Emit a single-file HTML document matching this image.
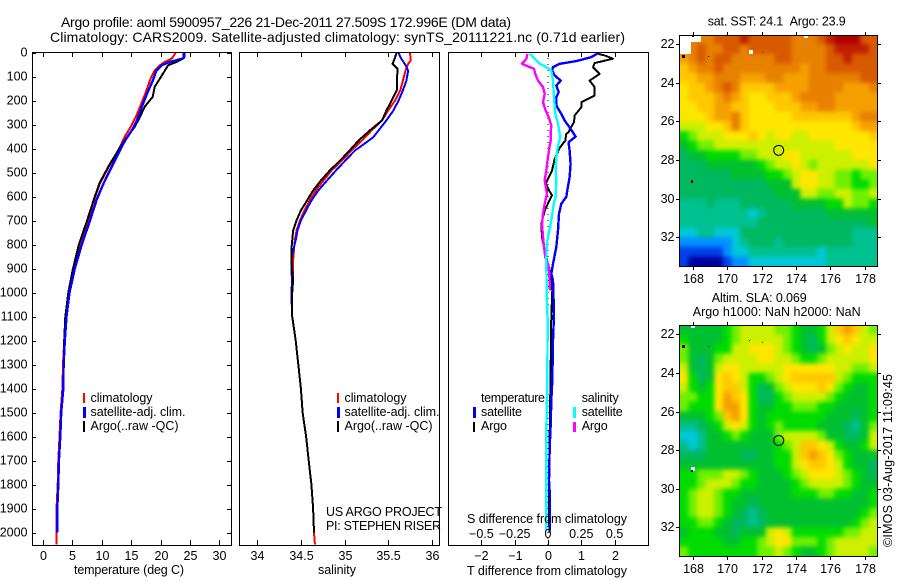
<!DOCTYPE html>
<html>
<head>
<meta charset="utf-8">
<title>Argo profile 5900957_226</title>
<style>
html,body{margin:0;padding:0;background:#fff;}
svg{display:block;}
text{font-family:"Liberation Sans",sans-serif;font-size:12.5px;fill:#000;}
.title{font-size:14px;}
.mid{text-anchor:middle;}
.end{text-anchor:end;}
</style>
</head>
<body>
<svg id="figure" width="900" height="580" viewBox="0 0 900 580" xmlns="http://www.w3.org/2000/svg">
<rect x="0" y="0" width="900" height="580" fill="#fff"/>
<text class="title" x="61" y="27" textLength="450" lengthAdjust="spacing">Argo profile: aoml 5900957_226 21-Dec-2011 27.509S 172.996E (DM data)</text>
<text class="title" x="50" y="42" textLength="575" lengthAdjust="spacing">Climatology: CARS2009. Satellite-adjusted climatology: synTS_20111221.nc (0.71d earlier)</text>
<defs>
<clipPath id="clipMap1"><rect x="679" y="35" width="198" height="231"/></clipPath>
<clipPath id="clipMap2"><rect x="679" y="325" width="198" height="231"/></clipPath>
<filter id="smoothSst" x="-10%" y="-10%" width="120%" height="120%" color-interpolation-filters="sRGB"><feGaussianBlur stdDeviation="2"/></filter>
<filter id="smoothSla" x="-10%" y="-10%" width="120%" height="120%" color-interpolation-filters="sRGB"><feGaussianBlur stdDeviation="2.3"/></filter>
</defs>
<g id="layerMarks"></g>
<g id="layerAxes"></g>

<g>
<rect x="83" y="393" width="2" height="10" fill="#f00"/>
<rect x="83" y="407" width="3" height="11" fill="#00f"/>
<rect x="83" y="421" width="2" height="11" fill="#000"/>
<text x="90.5" y="402" textLength="62" lengthAdjust="spacing">climatology</text>
<text x="90.5" y="416" textLength="95" lengthAdjust="spacing">satellite-adj. clim.</text>
<text x="90.5" y="430" textLength="88" lengthAdjust="spacing">Argo(..raw -QC)</text>
</g>
<g>
<rect x="337" y="393" width="2" height="10" fill="#f00"/>
<rect x="337" y="407" width="3" height="11" fill="#00f"/>
<rect x="337" y="421" width="2" height="11" fill="#000"/>
<text x="344.5" y="402" textLength="62" lengthAdjust="spacing">climatology</text>
<text x="344.5" y="416" textLength="95" lengthAdjust="spacing">satellite-adj. clim.</text>
<text x="344.5" y="430" textLength="88" lengthAdjust="spacing">Argo(..raw -QC)</text>
</g>
<text x="326" y="516" textLength="116" lengthAdjust="spacing">US ARGO PROJECT</text>
<text x="326" y="530" textLength="115" lengthAdjust="spacing">PI: STEPHEN RISER</text>
<g>
<text x="481" y="402" textLength="64" lengthAdjust="spacing">temperature</text>
<text x="481" y="416" textLength="41" lengthAdjust="spacing">satellite</text>
<text x="481" y="430" textLength="26" lengthAdjust="spacing">Argo</text>
<rect x="473" y="407" width="3" height="11" fill="#00f"/>
<rect x="473" y="422" width="2" height="10" fill="#000"/>
<text x="581.7" y="402" textLength="37" lengthAdjust="spacing">salinity</text>
<text x="581.7" y="416" textLength="41" lengthAdjust="spacing">satellite</text>
<text x="581.7" y="430" textLength="26" lengthAdjust="spacing">Argo</text>
<rect x="573" y="407" width="3" height="11" fill="#0ff"/>
<rect x="573" y="422" width="3" height="10" fill="#f0f"/>
</g>
<text x="74" y="574" textLength="110" lengthAdjust="spacing">temperature (deg C)</text>
<text x="318" y="574" textLength="38" lengthAdjust="spacing">salinity</text>
<text x="467" y="575" textLength="160" lengthAdjust="spacing">T difference from climatology</text>
<text x="467" y="523" textLength="160" lengthAdjust="spacing">S difference from climatology</text>
<text x="707.7" y="25.5" textLength="138" lengthAdjust="spacing">sat. SST: 24.1&#160;&#160;Argo: 23.9</text>
<text x="711.7" y="302" textLength="95" lengthAdjust="spacing">Altim. SLA: 0.069</text>
<text x="692.7" y="316" textLength="168" lengthAdjust="spacing">Argo h1000: NaN h2000: NaN</text>
<text transform="translate(892 547) rotate(-90)" x="0" y="0" textLength="173" lengthAdjust="spacing">©IMOS 03-Aug-2017 11:09:45</text>
</svg>
<script>
// ---------- profile data ----------
const depthTicks = [0,100,200,300,400,500,600,700,800,900,1000,1100,1200,1300,1400,1500,1600,1700,1800,1900,2000];
const tempTicks = [0,5,10,15,20,25,30];
const salTicks = [34,34.5,35,35.5,36];
const diffTTicks = [-2,-1,0,1,2];
const diffSTicks = [-0.5,-0.25,0,0.25,0.5];
const diffSLabels = ['\u22120.5','\u22120.25','0','0.25','0.5'];
const diffTLabels = ['\u22122','\u22121','0','1','2'];

const tempClimDepth = [0,25,39,53,74,115,171,226,268,310,351,393,435,476,545,608,700,800,900,1000,1100,1200,1300,1400,1500,1600,1700,1800,1900,2000,2050];
const tempClim = [22.6,21.9,20.7,19.9,19,18.2,17.4,16.5,15.8,14.9,13.9,13.1,12.2,11.2,9.7,8.8,7.6,6.2,5.1,4.3,3.8,3.6,3.4,3.3,3,2.8,2.6,2.5,2.3,2.3,2.3];
const tempSatDepth = [0,20,25,39,53,74,115,171,226,282,324,365,407,476,545,615,700,800,900,1000,1100,1200,1300,1400,1500,1600,1700,1800,1900,2000];
const tempSat = [24,24,23.8,21.6,20.2,19.3,18.7,17.7,16.8,16,15.1,14,13.1,11.7,10.3,9.1,8,6.6,5.4,4.5,4,3.7,3.5,3.45,3.1,2.95,2.7,2.6,2.43,2.43];
const tempArgoDepth = [0,25,39,53,100,143,185,226,268,310,358,407,476,545,608,700,800,900,1000,1100,1200,1300,1400,1500,1600,1700,1800,1900,2000];
const tempArgo = [23.9,23.9,22.7,21.3,20.1,19,18.65,17.3,16.5,15.6,14.1,12.8,11.1,9.6,8.7,7.5,6.1,5.1,4.3,3.8,3.6,3.5,3.4,3.1,2.95,2.7,2.6,2.43,2.43];

const salClimDepth = [0,33,47,75,117,158,200,242,283,325,367,408,450,492,533,575,617,658,700,742,783,825,867,950,1000,1100,1200,1300,1400,1500,1600,1700,1800,1900,2000,2050];
const salClim = [35.75,35.76,35.73,35.7,35.67,35.64,35.58,35.5,35.43,35.31,35.2,35.08,34.97,34.85,34.76,34.67,34.6,34.54,34.49,34.45,34.43,34.42,34.41,34.41,34.4,34.4,34.44,34.47,34.5,34.52,34.56,34.59,34.62,34.64,34.65,34.66];
const salSatDepth = [0,19,47,75,117,158,200,242,283,325,353,388,408,450,492,533,575,617,658,700,742,783,825,867,908,950,1000,1100,1200,1300,1400,1500,1600,1700,1800,1900,2000];
const salSat = [35.62,35.64,35.69,35.73,35.71,35.67,35.62,35.56,35.48,35.39,35.33,35.2,35.12,35.01,34.9,34.8,34.7,34.62,34.56,34.5,34.46,34.44,34.41,34.39,34.39,34.4,34.39,34.4,34.44,34.47,34.5,34.52,34.56,34.59,34.62,34.64,34.65];
const salArgoDepth = [0,40,47,68,117,158,200,242,283,325,367,408,450,492,533,575,617,658,700,742,783,825,867,908,950,1000,1100,1200,1300,1400,1500,1600,1700,1800,1900,2000];
const salArgo = [35.6,35.56,35.55,35.61,35.6,35.6,35.54,35.48,35.43,35.29,35.16,35.06,34.95,34.83,34.73,34.64,34.57,34.5,34.45,34.41,34.4,34.39,34.39,34.4,34.41,34.4,34.4,34.44,34.47,34.5,34.52,34.56,34.59,34.62,34.64,34.65];

const dTSatDepth = [3,19,36,47,61,75,96,117,138,165,186,221,256,283,318,350,374,408,464,519,575,602,630,672,741,811,880,922,950,1089,1200,1367,1450,1548,1645,1783,1853,1992];
const dTSat = [1.5,1.3,0.85,0.35,0.15,0.12,0.2,0.38,0.25,0.32,0.25,0.25,0.4,0.5,0.68,0.83,0.62,0.65,0.68,0.65,0.58,0.55,0.4,0.33,0.3,0.25,0.15,0.1,0.15,0.18,0.15,0.13,0.1,0.08,0.05,0.03,0.06,0.06];
const dTArgoDepth = [6,12,26,44,61,89,117,144,179,207,228,263,290,315,332,339,367,397,443,492,526,547,572,595,623,658,714,769,825,880,922,991,1100,1300,1500,1800,2000];
const dTArgo = [1.5,1.7,1.95,1.4,1.35,1.55,1.25,1.4,1.4,1,1,0.8,0.78,0.68,0.62,0.55,0.52,0.35,0.2,0.12,0,-0.07,0.02,0.12,0.02,-0.1,-0.2,-0.18,-0.1,0,0.08,0.13,0.1,0.08,0.06,0.03,0.04];
const dSSatDepth = [6,26,47,61,75,117,186,256,297,353,388,436,492,533,602,630,700,769,797,880,1047,1116,1367,1575,1992];
const dSSat = [-0.1375,-0.1,-0.0625,-0.0125,0.025,0.0375,0.045,0.055,0.075,0.0925,0.075,0.0625,0.0575,0.0625,0.0575,0.0425,0.025,0,-0.01,-0.0125,-0.0075,-0.0025,-0.005,-0.0125,-0.0125];
const dSArgoDepth = [6,26,47,58,68,89,117,144,172,207,242,269,304,332,367,388,436,492,533,589,630,672,714,769,811,853,880,922,991];
const dSArgo = [-0.155,-0.1625,-0.195,-0.15,-0.105,-0.095,-0.075,-0.0375,-0.025,-0.0375,-0.0175,0.005,0.025,0.02,0.02,0.0125,0,-0.0125,-0.025,-0.0075,-0.025,-0.0375,-0.045,-0.0375,-0.03,-0.02,0,0.01,0.015];

// ---------- map data ----------
const mapLonTicks = [168,170,172,174,176,178];
const mapLatTicks = [22,24,26,28,30,32];
const mapLons = [167.5,168,168.5,169,169.5,170,170.5,171,171.5,172,172.5,173,173.5,174,174.5,175,175.5,176,176.5,177,177.5,178,178.5];
const mapLats = [21.75,22.25,22.75,23.25,23.75,24.25,24.75,25.25,25.75,26.25,26.75,27.25,27.75,28.25,28.75,29.25,29.75,30.25,30.75,31.25,31.75,32.25,32.75,33.25];
const levelColours = ['#0000a0','#0040e8','#0090ff','#00c8d8','#00c090','#00b860','#00c030','#00dc00','#70f000','#ccf000','#ffe600','#ffc800','#f5a000','#e88000','#d85a00','#c02000','#b00000'];
const sstLevels = [
[13,13,13,13,14,14,14,15,14,14,14,14,14,13,13,13,14,15,16,16,16,14,14],
[13,13,14,13,13,14,14,13,14,14,14,14,14,13,13,13,13,14,15,15,15,15,14],
[12,13,14,13,14,14,13,13,13,13,13,14,14,13,13,13,13,14,14,15,14,14,14],
[11,12,13,13,14,13,13,13,13,13,13,13,13,13,12,13,13,14,14,14,14,14,14],
[11,11,12,12,13,13,13,12,12,12,13,13,12,12,12,13,13,13,13,13,13,14,14],
[10,11,11,12,13,14,13,11,11,11,11,12,12,12,12,13,13,13,13,12,12,12,13],
[10,11,11,11,12,13,12,11,10,10,11,11,11,12,13,13,13,13,12,12,12,12,12],
[10,10,11,11,12,12,11,11,10,10,10,11,11,11,12,12,13,13,12,12,12,12,12],
[10,10,10,11,12,12,13,11,10,10,10,10,10,11,11,11,11,11,11,11,12,13,13],
[9,9,9,10,10,11,13,11,10,10,10,10,10,10,10,10,10,10,10,10,11,12,12],
[7,8,9,9,9,10,10,10,11,10,9,10,10,9,9,10,10,10,10,10,10,10,11],
[6,7,8,8,9,9,9,9,9,9,9,9,9,9,9,9,9,9,10,10,10,10,10],
[5,6,6,7,7,7,7,8,8,9,9,9,10,10,9,9,9,9,9,9,10,10,10],
[5,5,5,6,6,6,6,6,6,7,8,9,9,10,9,8,9,9,9,9,9,9,10],
[5,5,5,5,5,5,6,6,6,6,7,7,8,9,10,10,9,9,8,8,7,8,8],
[5,5,5,5,5,5,5,5,5,5,6,6,6,9,10,10,9,9,8,8,7,7,8],
[5,5,5,5,5,5,5,5,5,5,5,6,6,6,9,9,8,8,9,9,8,8,9],
[4,4,4,5,4,4,4,5,5,5,5,5,5,6,6,6,6,7,7,9,8,8,7],
[4,4,4,4,4,4,4,4,3,4,5,5,5,5,5,5,5,6,6,6,6,6,6],
[4,4,4,4,4,4,4,4,4,5,5,5,5,5,5,5,5,5,5,5,5,5,6],
[3,3,4,4,3,3,3,5,5,5,5,5,5,5,5,5,5,5,5,5,4,4,4],
[2,2,2,2,2,2,3,4,5,5,5,4,5,5,5,5,5,5,5,5,4,4,4],
[1,1,1,1,1,2,3,3,4,4,4,4,4,4,4,4,3,4,4,4,4,4,4],
[1,0,0,0,0,1,2,2,3,3,3,3,3,3,3,3,3,4,4,4,4,4,4]
];
const slaLevels = [
[6,6,6,6,6,7,8,9,9,9,9,8,8,7,6,6,7,9,11,12,11,9,8],
[7,6,6,6,6,7,8,9,9,9,9,9,8,7,6,5,7,9,10,11,10,9,9],
[8,6,6,6,7,7,9,9,10,10,10,9,8,7,6,5,6,8,9,10,9,9,10],
[8,6,5,6,8,9,9,9,9,10,10,9,9,8,7,7,8,9,9,9,9,9,10],
[9,6,5,6,9,10,10,9,9,9,9,9,10,10,10,10,10,10,9,9,8,8,9],
[10,7,5,6,10,11,10,9,7,7,8,9,10,11,11,11,11,11,9,8,7,7,7],
[9,7,6,7,10,11,11,9,7,5,6,8,9,10,10,10,11,10,8,7,6,6,7],
[8,8,7,7,10,12,11,10,7,5,5,7,8,9,9,9,9,8,7,6,6,6,7],
[8,7,7,7,10,12,12,10,7,6,6,7,7,8,8,8,7,7,6,6,6,6,7],
[6,6,6,7,8,11,12,10,7,6,7,7,7,7,7,7,7,6,6,6,5,6,7],
[4,4,5,6,7,9,10,9,7,6,7,8,7,7,7,7,6,6,6,5,4,6,8],
[3,3,4,6,6,7,8,7,6,6,6,8,9,9,9,9,8,6,6,5,5,6,9],
[4,3,4,6,6,6,6,6,6,6,6,7,8,9,11,11,10,9,7,6,6,7,9],
[5,5,5,6,6,6,6,5,5,6,6,7,7,9,11,12,11,10,8,7,6,6,6],
[6,6,6,6,6,6,6,6,6,6,6,7,7,9,10,11,11,10,9,7,6,6,5],
[7,7,8,8,8,9,9,8,7,6,6,6,7,8,9,10,10,10,9,8,7,6,5],
[7,7,8,9,9,9,8,7,7,6,6,6,6,7,8,9,9,9,9,8,7,6,6],
[7,8,9,9,8,7,7,6,6,6,6,6,6,7,7,7,8,8,7,7,6,6,7],
[7,8,9,9,8,7,6,6,5,6,6,6,6,6,6,6,6,6,6,6,6,6,7],
[7,8,9,9,8,7,6,5,4,5,6,6,6,6,6,6,6,6,6,6,6,7,8],
[7,7,8,8,7,6,5,5,4,5,6,6,6,6,6,6,6,6,6,6,7,8,9],
[6,7,7,7,6,6,5,6,6,6,9,10,9,7,7,7,7,7,7,8,8,9,9],
[7,7,7,7,7,6,6,7,7,8,9,10,10,8,8,8,7,8,9,9,9,9,9],
[8,7,7,7,7,7,7,7,7,8,8,9,8,7,6,6,7,8,9,9,9,9,8]
];
const argoLon = [173];
const argoLat = [27.5];

// ---------- axis functions ----------
const NS = 'http://www.w3.org/2000/svg';
const marks = document.getElementById('layerMarks');
const axes = document.getElementById('layerAxes');
const yDepth = d => 52.5 + d * 0.24;
const xTemp = t => 43 + t * 5.88;
const xSal = s => 257.3 + (s - 34) * 87.2;
const xDiffT = t => 548 + t * 33.3;
const xDiffS = s => 548 + s * 133.2;
const xLon = lon => 692.7 + (lon - 168) * 17.2;
const yLat1 = lat => 44 + (lat - 22) * 19.33;
const yLat2 = lat => 334.3 + (lat - 22) * 19.3;

function make(tag, parent, attrs) {
  const e = document.createElementNS(NS, tag);
  for (const k in attrs) e.setAttribute(k, attrs[k]);
  parent.appendChild(e);
  return e;
}
function tick(x1, y1, x2, y2) {
  const t = make('line', axes, {x1: x1, y1: y1, x2: x2, y2: y2, stroke: '#000', 'stroke-width': 1, 'shape-rendering': 'crispEdges'});
  
  
}
function label(str, x, y, cls) {
  const t = make('text', axes, {x: x, y: y, class: cls});
  t.textContent = str;
  
  
}
function frame(x, y, w, h, name) {
  const r = make('rect', axes, {x: x + 0.5, y: y + 0.5, width: w, height: h, fill: 'none', stroke: '#000', 'stroke-width': 1, 'shape-rendering': 'crispEdges'});
  
  
}
function profile(depths, values, xf, colour, width, name) {
  const pts = depths.map((d, i) => xf(values[i]).toFixed(1) + ',' + yDepth(d).toFixed(1)).join(' ');
  const p = make('polyline', marks, {points: pts, fill: 'none', stroke: colour, 'stroke-width': width, 'shape-rendering': 'crispEdges', 'stroke-linejoin': 'round'});
  
  
}

// ---------- depth profile panels ----------
profile(tempClimDepth, tempClim, xTemp, '#f00', 2, 'temperature-climatology-line');
profile(tempArgoDepth, tempArgo, xTemp, '#000', 2, 'temperature-argo-line');
profile(tempSatDepth, tempSat, xTemp, '#00f', 2.4, 'temperature-satellite-line');
profile(salClimDepth, salClim, xSal, '#f00', 2, 'salinity-climatology-line');
profile(salSatDepth, salSat, xSal, '#00f', 2, 'salinity-satellite-line');
profile(salArgoDepth, salArgo, xSal, '#000', 2, 'salinity-argo-line');

const zeroLine = make('line', marks, {x1: xDiffT(0), y1: 52, x2: xDiffT(0), y2: 545, stroke: '#000', 'stroke-width': 1, 'stroke-dasharray': '1 5', 'shape-rendering': 'crispEdges'});


profile(dTArgoDepth, dTArgo, xDiffT, '#000', 2, 'difference-t-argo-line');
profile(dTSatDepth, dTSat, xDiffT, '#00f', 2.4, 'difference-t-satellite-line');
profile(dSArgoDepth, dSArgo, xDiffS, '#f0f', 2.4, 'difference-s-argo-line');
profile(dSSatDepth, dSSat, xDiffS, '#0ff', 2.4, 'difference-s-satellite-line');

frame(32, 52, 199, 493, 'temperature-panel-frame');
frame(239, 52, 200, 493, 'salinity-panel-frame');
frame(448, 52, 200, 493, 'difference-panel-frame');

depthTicks.forEach(d => {
  const y = Math.round(yDepth(d)) + 0.5;
  tick(32, y, 36, y);
  tick(231, y, 227, y);
  label(String(d), 27.5, y + 3, 'end');
});
tempTicks.forEach(t => {
  const x = Math.round(xTemp(t)) + 0.5;
  tick(x, 52, x, 57);
  tick(x, 545, x, 540);
  label(String(t), x, 560, 'mid');
});
salTicks.forEach(s => {
  const x = Math.round(xSal(s)) + 0.5;
  tick(x, 52, x, 57);
  tick(x, 545, x, 540);
  label(String(s), x, 560, 'mid');
});
diffTTicks.forEach((t, i) => {
  const x = Math.round(xDiffT(t)) + 0.5;
  tick(x, 52, x, 57);
  tick(x, 545, x, 540);
  label(diffTLabels[i], x, 560, 'mid');
});
diffSTicks.forEach((s, i) => {
  label(diffSLabels[i], xDiffS(s), 538, 'mid');
});

// ---------- maps ----------
function heatmap(levels, yf, clipId, filterId, name) {
  const outer = make('g', marks, {'clip-path': 'url(#' + clipId + ')'});
  
  
  const inner = make('g', outer, {filter: 'url(#' + filterId + ')'});
  levels.forEach((row, j) => {
    row.forEach((v, i) => {
      let x0 = xLon(mapLons[i] - 0.25), x1 = xLon(mapLons[i] + 0.25);
      let y0 = yf(mapLats[j] - 0.25), y1 = yf(mapLats[j] + 0.25);
      if (i === 0) x0 -= 12;
      if (i === row.length - 1) x1 += 12;
      if (j === 0) y0 -= 12;
      if (j === levels.length - 1) y1 += 12;
      const c = make('rect', inner, {x: x0.toFixed(2), y: y0.toFixed(2), width: (x1 - x0 + 0.4).toFixed(2), height: (y1 - y0 + 0.4).toFixed(2), fill: levelColours[v]});
      
      
    });
  });
  return outer;
}
function speck(parent, x, y, w, h, colour) {
  const s = make('rect', parent, {x: x, y: y, width: w, height: h, fill: colour});
  
  
}
const sstMap = heatmap(sstLevels, yLat1, 'clipMap1', 'smoothSst', 'sst-heatmap');
const slaMap = heatmap(slaLevels, yLat2, 'clipMap2', 'smoothSla', 'sla-heatmap');
speck(sstMap, 679, 35, 22, 7, '#fff');
speck(sstMap, 679, 42, 12, 12, '#fff');
speck(sstMap, 749, 50, 4, 4, '#fff');
speck(sstMap, 804, 35, 4, 3, '#fff');
speck(sstMap, 682, 55, 3, 3, '#000');
speck(sstMap, 692, 35, 2, 2, '#000');
speck(sstMap, 708, 56, 1, 1, '#000');
speck(sstMap, 762, 52, 1, 1, '#000');
speck(sstMap, 691, 180, 2, 3, '#000');
speck(slaMap, 691, 325, 4, 3, '#fff');
speck(slaMap, 682, 345, 3, 3, '#400040');
speck(slaMap, 708, 346, 1, 1, '#000');
speck(slaMap, 749, 340, 1, 1, '#000');
speck(slaMap, 762, 342, 1, 1, '#000');
speck(slaMap, 691, 467, 4, 4, '#fff');
speck(slaMap, 691, 470, 2, 2, '#000');

[[yLat1, 35, 'sst'], [yLat2, 325, 'sla']].forEach(cfg => {
  const yf = cfg[0], top = cfg[1], name = cfg[2];
  const bottom = top + 231;
  frame(679, top, 198, 231, name + '-map-frame');
  mapLonTicks.forEach(lon => {
    const x = Math.round(xLon(lon)) + 0.5;
    tick(x, top, x, top - 3);
    tick(x, bottom + 1, x, bottom + 4);
    label(String(lon), x, bottom + 17, 'mid');
  });
  mapLatTicks.forEach(lat => {
    const y = Math.round(yf(lat)) + 0.5;
    tick(679, y, 676, y);
    tick(878, y, 881, y);
    label(String(lat), 674.5, y + 3.5, 'end');
  });
  const ring = make('circle', axes, {cx: xLon(argoLon[0]), cy: yf(argoLat[0]), r: 5, fill: 'none', stroke: '#000', 'stroke-width': 1});
  
  
});
</script>
</body>
</html>
